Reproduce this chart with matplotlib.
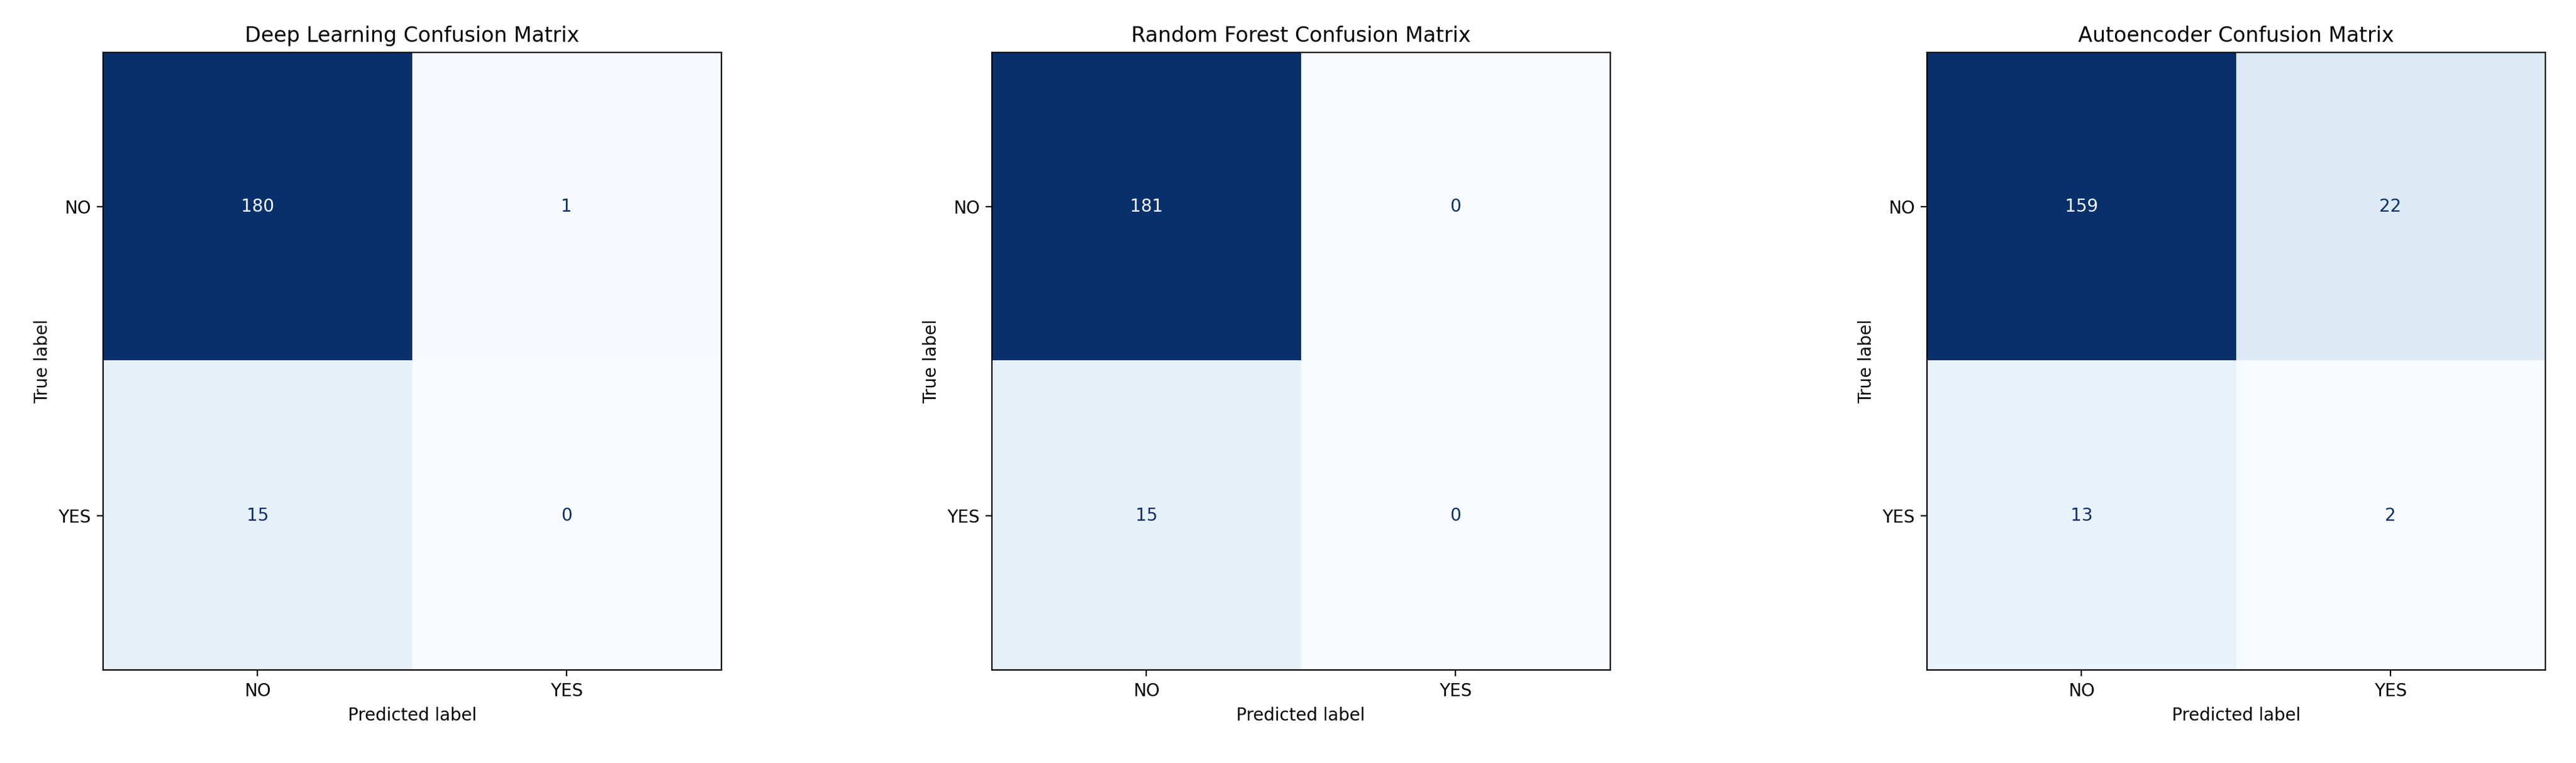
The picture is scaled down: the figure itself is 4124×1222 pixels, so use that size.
import numpy as np
import matplotlib
matplotlib.use("Agg")
import matplotlib.pyplot as plt

titles = ["Deep Learning Confusion Matrix", "Random Forest Confusion Matrix", "Autoencoder Confusion Matrix"]
labels = ["NO", "YES"]
dl_cm = [[180, 1], [15, 0]]
rf_cm = [[181, 0], [15, 0]]
ae_cm = [[159, 22], [13, 2]]
matrices = [dl_cm, rf_cm, ae_cm]

fig = plt.figure(figsize=(20.62, 6.11), dpi=200)
lefts = [0.040, 0.385, 0.748]
cmap = plt.get_cmap("Blues")

for left, title, cm in zip(lefts, titles, matrices):
    ax = fig.add_axes([left, 0.118, 0.240, 0.817])
    cm = np.array(cm)
    ax.imshow(cm, cmap=cmap, interpolation="nearest")
    thresh = (cm.max() + cm.min()) / 2.0
    for i in range(2):
        for j in range(2):
            color = cmap(0.0) if cm[i, j] >= thresh else cmap(1.0)
            ax.text(j, i, str(cm[i, j]), ha="center", va="center", color=color, fontsize=10)
    ax.set_xticks([0, 1], labels)
    ax.set_yticks([0, 1], labels)
    ax.set_xlabel("Predicted label")
    ax.set_ylabel("True label")
    ax.set_title(title, fontsize=12)

fig.savefig("out.png", dpi=200)
